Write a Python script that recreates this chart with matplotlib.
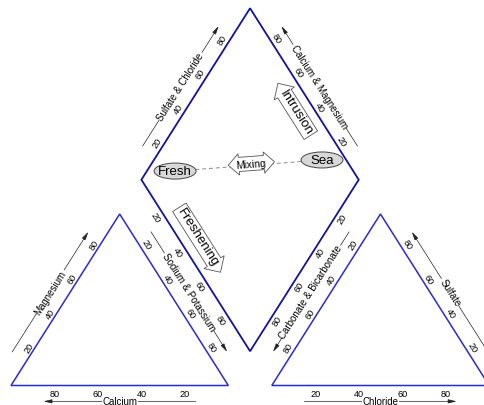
import numpy as np
import matplotlib.pyplot as plt
from matplotlib.patches import Ellipse, Polygon

plt.rcParams['font.family'] = ['Liberation Sans', 'DejaVu Sans']

# Piper diagram layout (triangle side = 100 units)
H = np.sqrt(3) / 2 * 100
GAP = 20
DY = GAP * np.sqrt(3) / 2

tick_values = [20, 40, 60, 80]

# corner points
left_tri = np.array([[0, 0], [100, 0], [50, H]])
right_tri = np.array([[100 + GAP, 0], [200 + GAP, 0], [150 + GAP, H]])
P = np.array([110, DY])            # diamond bottom
L = np.array([60, DY + H])         # diamond left
T = np.array([110, DY + 2 * H])    # diamond top
R = np.array([160, DY + H])        # diamond right
diamond = np.array([P, L, T, R])

# axis definitions: title, 0% end, 100% end, tick offset, tick rotation,
# title rotation, outward normal for the title line (None = no title)
n_l = np.array([-np.sqrt(3) / 2, 0.5])
n_r = np.array([np.sqrt(3) / 2, 0.5])
n_b = np.array([0, -1])
axes_def = [
    ('Calcium', left_tri[1], left_tri[0], (0, -3.8), 0, 0, n_b),
    ('Magnesium', left_tri[0], left_tri[2], (-1.8, 2.0), 60, 60, n_l),
    ('Sodium & Potassium', left_tri[2], left_tri[1], (2.3, 2.1), -60, -60, n_r),
    ('Chloride', right_tri[0], right_tri[1], (0, -3.8), 0, 0, n_b),
    ('Sulfate', right_tri[1], right_tri[2], (2.2, 2.0), -60, -60, n_r),
    ('Carbonate & Bicarbonate', right_tri[2], right_tri[0], (-2.5, 1.8), 60, 60, n_l),
    ('Sulfate & Chloride', L, T, (-2.8, 1.6), 60, 60, n_l),
    ('Calcium & Magnesium', R, T, (2.0, 2.2), -60, -60, n_r),
    (None, L, P, (-3.4, -1.6), -60, None, None),
    (None, R, P, (2.4, -2.0), 60, None, None),
]

# schematic water types and processes
fresh_xy = (75.5, 108.3)
sea_xy = (143.1, 113.9)
mixing_xy = (110.4, 112.1)
intrusion_xy = (131.2, 138.1)
freshening_xy = (86.1, 75.0)

fig = plt.figure(figsize=(4.85, 4.06), dpi=100)
ax = fig.add_axes([0, 0, 1, 1])
ax.set_xlim(-5.06, 218.1)
ax.set_ylim(-9.85, 195.2)
ax.axis('off')

ax.add_patch(Polygon(left_tri, closed=True, fill=False, ec='#2a2ad2', lw=1.1))
ax.add_patch(Polygon(right_tri, closed=True, fill=False, ec='#2a2ad2', lw=1.1))
ax.add_patch(Polygon(diamond, closed=True, fill=False, ec='#12129e', lw=1.3))

for title, p0, p1, off, trot, lrot, normal in axes_def:
    p0 = np.asarray(p0, float)
    p1 = np.asarray(p1, float)
    for v in tick_values:
        x, y = p0 + (p1 - p0) * v / 100 + np.array(off)
        ax.text(x, y, str(v), fontsize=6.6, ha='center', va='center',
                rotation=trot, transform_rotates_text=True, rotation_mode='anchor')
    if title is None:
        continue
    a = p0 + (p1 - p0) * 0.15 + normal * 8
    b = p0 + (p1 - p0) * 0.85 + normal * 8
    ax.annotate('', xy=b, xytext=a,
                arrowprops=dict(arrowstyle='-|>,head_length=0.5,head_width=0.12',
                                color='#222222', lw=0.5, shrinkA=0, shrinkB=0))
    mx, my = (a + b) / 2
    ax.text(mx, my, title, fontsize=7, ha='center', va='center',
            rotation=lrot, transform_rotates_text=True, rotation_mode='anchor',
            bbox=dict(boxstyle='square,pad=0.05', fc='white', ec='none'))

# mixing line between fresh and sea water
ax.plot([fresh_xy[0], sea_xy[0]], [fresh_xy[1], sea_xy[1]],
        ls=(0, (4, 3)), color='#888888', lw=0.7, zorder=1)
for xy, label in [(fresh_xy, 'Fresh'), (sea_xy, 'Sea')]:
    ax.add_patch(Ellipse(xy, 19.3, 8.1, fc='#d8d8d8', ec='#444444', lw=0.7, zorder=2))
    ax.text(xy[0], xy[1], label, fontsize=9.5, ha='center', va='center', zorder=3)

ang = np.degrees(np.arctan2(sea_xy[1] - fresh_xy[1], sea_xy[0] - fresh_xy[0]))
ax.text(mixing_xy[0], mixing_xy[1], 'Mixing', fontsize=7.5, ha='center', va='center',
        rotation=ang, transform_rotates_text=True, rotation_mode='anchor', zorder=3,
        bbox=dict(boxstyle='darrow,pad=0.2', fc='white', ec='#555555', lw=0.6))

ax.text(intrusion_xy[0], intrusion_xy[1], 'Intrusion', fontsize=9.5, ha='center',
        va='center', rotation=-60, transform_rotates_text=True, rotation_mode='anchor',
        bbox=dict(boxstyle='larrow,pad=0.15', fc='white', ec='#555555', lw=0.6))
ax.text(freshening_xy[0], freshening_xy[1], 'Freshening', fontsize=9.5, ha='center',
        va='center', rotation=-60, transform_rotates_text=True, rotation_mode='anchor',
        bbox=dict(boxstyle='rarrow,pad=0.15', fc='white', ec='#555555', lw=0.6))

fig.savefig('out.png', dpi=100)
